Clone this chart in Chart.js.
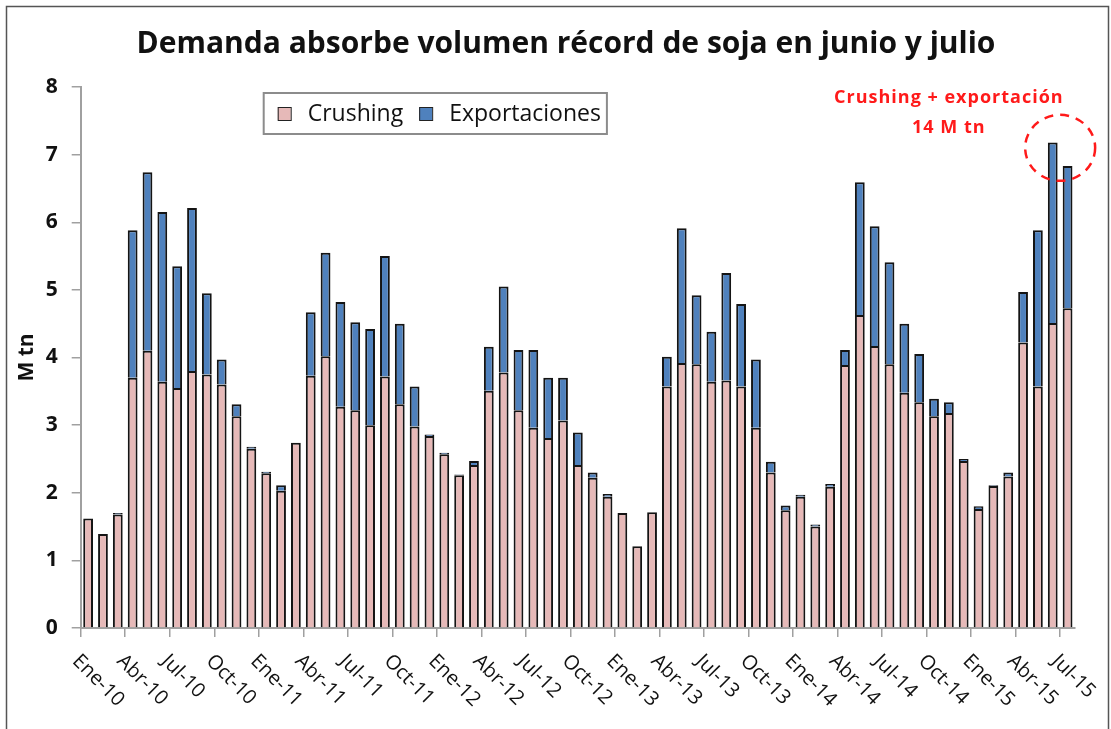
<!DOCTYPE html>
<html>
<head>
<meta charset="utf-8">
<script src="https://cdn.jsdelivr.net/npm/chart.js@4.4.1/dist/chart.umd.min.js"></script>
<style>
  html, body { margin: 0; padding: 0; background: #fff; }
</style>
</head>
<body>
<canvas id="chart" width="1111" height="729"></canvas>
<script>
// monthly categories, Ene-10 .. Jul-15
const months = [
  'Ene-10','Feb-10','Mar-10','Abr-10','May-10','Jun-10','Jul-10','Ago-10','Sep-10','Oct-10','Nov-10','Dic-10',
  'Ene-11','Feb-11','Mar-11','Abr-11','May-11','Jun-11','Jul-11','Ago-11','Sep-11','Oct-11','Nov-11','Dic-11',
  'Ene-12','Feb-12','Mar-12','Abr-12','May-12','Jun-12','Jul-12','Ago-12','Sep-12','Oct-12','Nov-12','Dic-12',
  'Ene-13','Feb-13','Mar-13','Abr-13','May-13','Jun-13','Jul-13','Ago-13','Sep-13','Oct-13','Nov-13','Dic-13',
  'Ene-14','Feb-14','Mar-14','Abr-14','May-14','Jun-14','Jul-14','Ago-14','Sep-14','Oct-14','Nov-14','Dic-14',
  'Ene-15','Feb-15','Mar-15','Abr-15','May-15','Jun-15','Jul-15'
];

// M tn
const crushing = [
  1.62, 1.39, 1.68, 3.70, 4.10, 3.64, 3.55, 3.80, 3.75, 3.60, 3.13, 2.65,
  2.29, 2.03, 2.74, 3.73, 4.02, 3.27, 3.22, 3.00, 3.72, 3.31, 2.98, 2.84,
  2.57, 2.26, 2.41, 3.51, 3.78, 3.22, 2.96, 2.81, 3.07, 2.41, 2.22, 1.94,
  1.70, 1.21, 1.71, 3.57, 3.92, 3.90, 3.64, 3.66, 3.57, 2.96, 2.30, 1.74,
  1.94, 1.50, 2.09, 3.89, 4.63, 4.17, 3.90, 3.48, 3.34, 3.13, 3.18, 2.47,
  1.76, 2.10, 2.24, 4.22, 3.57, 4.51, 4.73
];

const exportaciones = [
  0.00, 0.00, 0.02, 2.18, 2.64, 2.51, 1.80, 2.41, 1.20, 0.37, 0.18, 0.03,
  0.02, 0.08, 0.00, 0.94, 1.53, 1.55, 1.30, 1.42, 1.78, 1.19, 0.59, 0.02,
  0.02, 0.01, 0.06, 0.65, 1.27, 0.89, 1.15, 0.89, 0.63, 0.48, 0.08, 0.04,
  0.00, 0.00, 0.00, 0.44, 1.99, 1.02, 0.74, 1.59, 1.22, 1.01, 0.16, 0.07,
  0.03, 0.03, 0.04, 0.22, 1.96, 1.77, 1.51, 1.02, 0.71, 0.26, 0.16, 0.03,
  0.04, 0.01, 0.06, 0.75, 2.31, 2.67, 2.10
];

const yTickValues = [0, 1, 2, 3, 4, 5, 6, 7, 8];

const titleText = 'Demanda absorbe volumen récord de soja en junio y julio';
const noteLines = ['Crushing + exportación', '14 M tn'];

const axisGray = '#a0a0a0';

// title, rotated month labels, legend box, red note, frame
const decorations = {
  id: 'decorations',
  afterDraw(chart) {
    const { ctx, chartArea, scales: { x, y } } = chart;
    const step = x.getPixelForValue(1) - x.getPixelForValue(0);

    ctx.save();

    // frame
    ctx.strokeStyle = '#555';
    ctx.lineWidth = 1.5;
    ctx.beginPath();
    ctx.moveTo(6.5, 740); ctx.lineTo(6.5, 6.5); ctx.lineTo(1108.5, 6.5); ctx.lineTo(1108.5, 740);
    ctx.stroke();

    // title
    ctx.fillStyle = '#111';
    ctx.font = 'bold 30px "Open Sans"';
    ctx.textAlign = 'center';
    ctx.textBaseline = 'alphabetic';
    ctx.fillText(titleText, 566, 53);

    // x labels every 3 months, reading down to the right
    ctx.font = '20px "Open Sans"';
    ctx.textAlign = 'left';
    ctx.textBaseline = 'top';
    months.forEach((m, i) => {
      if (i % 3 !== 0) return;
      const bx = x.getPixelForValue(i) - step / 2;
      ctx.save();
      ctx.translate(bx + 2, chartArea.bottom + 23);
      ctx.rotate(Math.PI / 4);
      ctx.fillText(m, 0, 0);
      ctx.restore();
    });

    // legend
    const lx = chartArea.left + 183, ly = chartArea.top + 6, lh = 41;
    ctx.font = '23px "Open Sans"';
    ctx.textBaseline = 'middle';
    let cx = lx + 14;
    const items = chart.data.datasets.map(ds => ({ label: ds.label, color: ds.backgroundColor }));
    const pos = [];
    items.forEach((it, k) => {
      pos.push(cx);
      cx += 30 + ctx.measureText(it.label).width + (k < items.length - 1 ? 16 : 6);
    });
    ctx.strokeStyle = '#8c8c8c';
    ctx.lineWidth = 2;
    ctx.strokeRect(lx, ly, cx - lx, lh);
    items.forEach((it, k) => {
      ctx.fillStyle = it.color;
      ctx.fillRect(pos[k], ly + 14, 13, 13);
      ctx.strokeStyle = '#222';
      ctx.lineWidth = 1;
      ctx.strokeRect(pos[k] + 0.5, ly + 14.5, 13, 13);
      ctx.fillStyle = '#111';
      ctx.fillText(it.label, pos[k] + 30, ly + lh / 2 + 1);
    });

    // red note and dashed circle
    ctx.fillStyle = '#ff1a1a';
    ctx.font = 'bold 18px "Open Sans"';
    ctx.textAlign = 'center';
    ctx.letterSpacing = '1px';
    const nx = x.getPixelForValue(58);
    ctx.fillText(noteLines[0], nx, y.getPixelForValue(7.84));
    ctx.fillText(noteLines[1], nx, y.getPixelForValue(7.4));

    const ex = (x.getPixelForValue(65) + x.getPixelForValue(66)) / 2;
    ctx.strokeStyle = '#ff1a1a';
    ctx.lineWidth = 2.5;
    ctx.setLineDash([9, 7]);
    ctx.beginPath();
    ctx.ellipse(ex, y.getPixelForValue(7.1), 35, 33, 0, 0, Math.PI * 2);
    ctx.stroke();

    ctx.restore();
  }
};

new Chart(document.getElementById('chart'), {
  type: 'bar',
  data: {
    labels: months,
    datasets: [
      {
        label: 'Crushing',
        data: crushing,
        backgroundColor: '#e6b9b8',
        borderColor: '#141414',
        borderWidth: 2,
        barPercentage: 0.66,
        categoryPercentage: 1
      },
      {
        label: 'Exportaciones',
        data: exportaciones,
        backgroundColor: '#4f81bd',
        borderColor: '#141414',
        borderWidth: 2,
        barPercentage: 0.66,
        categoryPercentage: 1
      }
    ]
  },
  options: {
    responsive: false,
    animation: false,
    layout: { padding: { top: 87, right: 36, bottom: 0, left: 8 } },
    plugins: {
      legend: { display: false },
      title: { display: false },
      tooltip: { enabled: false }
    },
    scales: {
      x: {
        stacked: true,
        offset: true,
        ticks: { display: false },
        grid: {
          offset: true,
          drawOnChartArea: false,
          tickLength: 9,
          lineWidth: 1.5,
          color: c => (c.index % 3 === 0 ? axisGray : 'rgba(0,0,0,0)')
        },
        border: { color: axisGray, width: 2 },
        afterFit: s => { s.height = 101; }
      },
      y: {
        stacked: true,
        min: 0,
        max: 8,
        afterBuildTicks: s => { s.ticks = yTickValues.map(v => ({ value: v })); },
        ticks: {
          padding: 14,
          color: '#111',
          font: { family: '"Open Sans"', size: 21, weight: 'bold' }
        },
        grid: { drawOnChartArea: false, tickLength: 9, lineWidth: 1.5, color: axisGray },
        border: { color: axisGray, width: 2 },
        title: {
          display: true,
          text: 'M tn',
          color: '#111',
          font: { family: '"Open Sans"', size: 21, weight: 'bold' },
          padding: { top: 6, bottom: 0 }
        },
        afterFit: s => { s.width = 72.7; }
      }
    }
  },
  plugins: [decorations]
});
</script>
</body>
</html>
